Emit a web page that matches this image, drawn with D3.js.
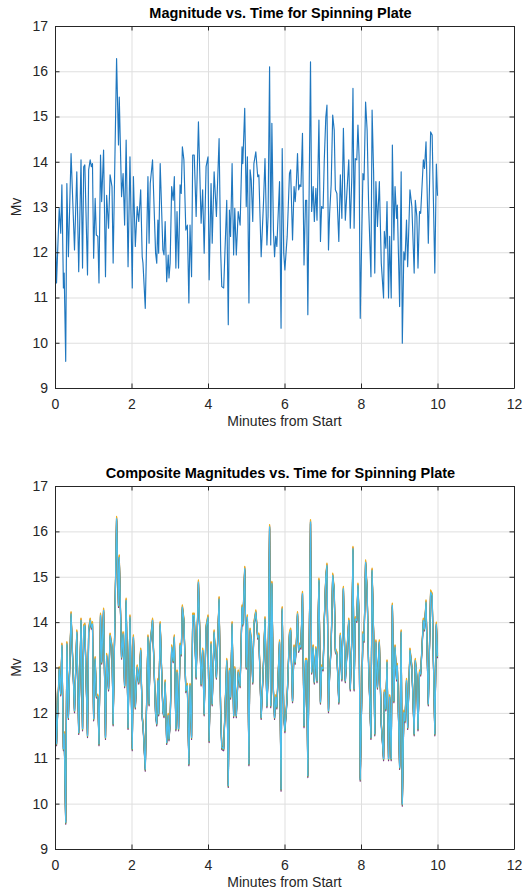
<!DOCTYPE html>
<html>
<head>
<meta charset="utf-8">
<script src="https://cdn.jsdelivr.net/npm/d3@7"></script>
<style>
  html, body { margin: 0; padding: 0; background: #fff; }
  svg { display: block; font-family: "Liberation Sans", Arial, Helvetica, sans-serif; }
</style>
</head>
<body>
<svg id="chart" width="531" height="894"></svg>
<script>
// Sample times (minutes from start) and visual magnitude readings
const minutes = [
  0.00,0.04,0.11,0.15,0.18,0.22,0.24,0.28,0.31,0.35,0.42,0.51,0.57,0.62,0.68,0.72,0.75,0.78,0.85,0.88,
  0.92,0.95,0.98,1.01,1.05,1.08,1.12,1.15,1.19,1.22,1.27,1.32,1.35,1.40,1.44,1.49,1.52,1.61,1.66,1.68,
  1.74,1.78,1.82,1.86,1.91,1.96,2.02,2.05,2.10,2.15,2.19,2.24,2.28,2.30,2.36,2.43,2.46,2.49,2.55,2.63,
  2.66,2.69,2.71,2.75,2.82,2.85,2.88,2.92,2.96,2.98,3.01,3.05,3.09,3.12,3.16,3.19,3.23,3.27,3.30,3.33,
  3.37,3.42,3.46,3.50,3.53,3.57,3.60,3.64,3.69,3.75,3.82,3.86,3.90,3.95,4.00,4.03,4.08,4.11,4.16,4.22,
  4.29,4.33,4.36,4.41,4.49,4.53,4.56,4.59,4.63,4.67,4.70,4.74,4.79,4.84,4.89,4.91,4.96,5.00,5.03,5.07,
  5.10,5.13,5.17,5.20,5.25,5.30,5.33,5.39,5.45,5.49,5.54,5.57,5.61,5.64,5.67,5.71,5.74,5.77,5.80,5.87,
  5.91,5.94,5.98,6.01,6.07,6.13,6.16,6.21,6.25,6.28,6.31,6.34,6.37,6.40,6.43,6.47,6.51,6.55,6.58,6.61,
  6.68,6.71,6.75,6.78,6.82,6.85,6.90,6.94,6.97,7.01,7.04,7.08,7.11,7.15,7.18,7.22,7.26,7.30,7.33,7.37,
  7.42,7.46,7.50,7.54,7.59,7.63,7.68,7.72,7.76,7.79,7.82,7.85,7.89,7.92,7.95,7.98,8.05,8.08,8.12,8.16,
  8.20,8.26,8.29,8.33,8.36,8.39,8.43,8.48,8.53,8.59,8.61,8.65,8.68,8.72,8.75,8.79,8.82,8.86,8.89,8.93,
  8.95,9.01,9.05,9.08,9.12,9.15,9.19,9.22,9.28,9.33,9.39,9.42,9.46,9.49,9.53,9.56,9.63,9.66,9.70,9.76,
  9.82,9.86,9.93,9.97,10.00
];
const magnitude = [
  12.95,11.32,12.97,12.42,13.49,11.21,11.54,9.59,13.52,11.90,14.18,12.05,13.78,11.57,14.04,11.65,13.89,13.93,11.50,13.82,
  14.04,13.89,13.96,11.87,13.19,12.38,12.35,11.32,14.15,13.12,14.26,11.46,13.26,12.53,13.71,13.45,11.76,16.28,14.37,15.43,
  13.23,13.74,12.60,14.48,11.68,14.11,11.21,13.67,12.13,13.01,12.68,13.38,11.90,11.76,10.76,13.67,12.20,13.52,14.04,11.98,
  11.76,12.71,11.98,13.96,12.05,11.94,12.68,11.35,11.94,11.43,11.76,13.45,13.15,13.67,11.65,12.90,11.65,13.49,13.30,14.33,
  14.04,12.49,12.60,10.88,12.60,11.46,14.15,14.15,12.79,14.88,12.64,13.38,11.98,13.89,14.11,11.39,13.52,12.20,13.78,12.79,
  14.51,12.05,11.24,11.21,13.15,10.40,12.93,12.35,13.96,11.94,12.97,11.94,12.90,12.60,14.33,13.96,15.18,13.01,14.11,10.88,
  13.82,13.60,12.68,13.96,14.22,13.67,13.71,11.90,13.08,14.07,12.16,12.79,16.10,12.16,14.85,12.49,11.90,12.35,12.13,13.56,
  10.32,14.29,11.98,11.61,12.35,13.74,13.82,12.27,13.45,13.12,13.52,14.18,13.38,13.49,13.45,14.63,11.72,13.15,13.15,10.62,
  16.21,12.90,13.45,12.68,13.41,12.71,14.92,12.24,13.01,12.97,14.04,14.99,15.25,12.05,12.86,13.49,15.03,14.70,13.38,13.30,
  12.24,13.71,12.75,14.74,12.71,13.30,14.04,12.53,13.67,15.62,12.53,14.07,14.04,14.81,14.11,10.54,13.74,13.60,15.32,14.70,
  13.01,11.46,15.14,13.74,11.54,13.56,12.57,13.56,11.76,10.99,12.46,12.09,13.12,10.99,12.35,10.99,14.37,12.27,13.45,12.75,
  13.04,10.80,13.78,9.99,12.01,11.83,12.71,11.68,13.38,13.01,11.54,13.15,12.79,11.65,12.90,12.86,14.04,13.85,14.44,12.20,
  14.66,14.59,11.54,13.95,13.25
];

// Axis ticks
const xTicks = [0, 2, 4, 6, 8, 10, 12];
const yTicks = [9, 10, 11, 12, 13, 14, 15, 16, 17];

// Composite plot: per-comparison offsets (mag) and line colours
const compositeOffsets = [0, 0.03, 0.05, -0.045, -0.02, 0];
const compositeColors = ["#0072BD", "#D95319", "#EDB120", "#7E2F8E", "#77AC30", "#4DBEEE"];

const panels = [
  { title: "Magnitude vs. Time for Spinning Plate", top: 26, bottom: 388, composite: false },
  { title: "Composite Magnitudes vs. Time for Spinning Plate", top: 486, bottom: 849, composite: true }
];

const svg = d3.select("#chart");
svg.append("rect").attr("width", 531).attr("height", 894).attr("fill", "#fff");

const left = 55, right = 514;
const axisColor = "#262626";
const gridColor = "#dfdfdf";
const points = minutes.map((t, i) => ({ t, m: magnitude[i] }));

panels.forEach(p => {
  const x = d3.scaleLinear().domain([0, 12]).range([left, right]);
  const y = d3.scaleLinear().domain([9, 17]).range([p.bottom, p.top]);
  const g = svg.append("g");

  // grid
  g.append("g").attr("transform", `translate(0,${p.bottom})`)
    .call(d3.axisBottom(x).tickValues(xTicks).tickSize(-(p.bottom - p.top)).tickFormat(""))
    .call(a => a.select(".domain").remove())
    .call(a => a.selectAll("line").attr("stroke", gridColor).attr("stroke-width", 1));
  g.append("g").attr("transform", `translate(${left},0)`)
    .call(d3.axisLeft(y).tickValues(yTicks).tickSize(-(right - left)).tickFormat(""))
    .call(a => a.select(".domain").remove())
    .call(a => a.selectAll("line").attr("stroke", gridColor).attr("stroke-width", 1));

  // data lines
  const clipId = "clip" + p.top;
  g.append("clipPath").attr("id", clipId).append("rect")
    .attr("x", left).attr("y", p.top).attr("width", right - left).attr("height", p.bottom - p.top);
  const plotG = g.append("g").attr("clip-path", `url(#${clipId})`);
  if (!p.composite) {
    const line = d3.line().x(d => x(d.t)).y(d => y(d.m));
    plotG.append("path").datum(points)
      .attr("fill", "none").attr("stroke", "#1f77bf").attr("stroke-width", 1.15)
      .attr("stroke-linejoin", "round").attr("d", line);
  } else {
    compositeOffsets.forEach((off, k) => {
      const line = d3.line().x(d => x(d.t)).y(d => y(d.m + off));
      plotG.append("path").datum(points)
        .attr("fill", "none").attr("stroke", compositeColors[k]).attr("stroke-width", 1.2)
        .attr("stroke-linejoin", "round").attr("d", line);
    });
  }

  // box with inward ticks on all sides
  const tickLen = 4.5;
  const axB = g.append("g").attr("transform", `translate(0,${p.bottom})`)
    .call(d3.axisBottom(x).tickValues(xTicks).tickSizeInner(-tickLen).tickSizeOuter(0).tickPadding(11));
  const axT = g.append("g").attr("transform", `translate(0,${p.top})`)
    .call(d3.axisTop(x).tickValues(xTicks).tickSizeInner(-tickLen).tickSizeOuter(0).tickFormat(""));
  const axL = g.append("g").attr("transform", `translate(${left},0)`)
    .call(d3.axisLeft(y).tickValues(yTicks).tickSizeInner(-tickLen).tickSizeOuter(0).tickPadding(7));
  const axR = g.append("g").attr("transform", `translate(${right},0)`)
    .call(d3.axisRight(y).tickValues(yTicks).tickSizeInner(-tickLen).tickSizeOuter(0).tickFormat(""));
  [axB, axT, axL, axR].forEach(a => {
    a.select(".domain").attr("stroke", axisColor).attr("stroke-width", 1);
    a.selectAll(".tick line").attr("stroke", axisColor).attr("stroke-width", 1);
    a.selectAll(".tick text").attr("fill", axisColor)
      .style("font-size", "14px").style("font-family", "'Liberation Sans', Arial, sans-serif");
  });

  // title and labels
  svg.append("text").attr("x", (left + right) / 2 - 4).attr("y", p.top - 8)
    .attr("text-anchor", "middle").attr("fill", "#000")
    .style("font-size", "14.5px").style("font-weight", "bold").text(p.title);
  svg.append("text").attr("x", (left + right) / 2).attr("y", p.bottom + 38)
    .attr("text-anchor", "middle").attr("fill", axisColor)
    .style("font-size", "14px").text("Minutes from Start");
  svg.append("text")
    .attr("transform", `translate(${left - 34},${(p.top + p.bottom) / 2}) rotate(-90)`)
    .attr("text-anchor", "middle").attr("fill", axisColor)
    .style("font-size", "14px").text("Mv");
});
</script>
</body>
</html>
